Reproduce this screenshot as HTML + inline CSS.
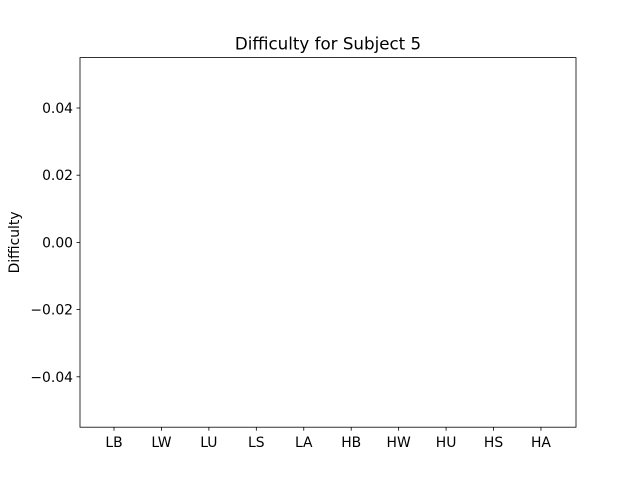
<!DOCTYPE html>
<html><head><meta charset="utf-8"><style>
body{margin:0;background:#fff;}
svg text{font-family:"DejaVu Sans","Liberation Sans",sans-serif;font-size:13.9px;fill:#000;}
</style></head><body>
<svg id="chart" width="640" height="480" viewBox="0 0 640 480">
<rect x="0" y="0" width="640" height="480" fill="#fff"/>
<text x="328" y="49.5" text-anchor="middle" style="font-size:16.7px">Difficulty for Subject 5</text>
<text transform="translate(19,242.4) rotate(-90)" text-anchor="middle">Difficulty</text>
<g id="bars"></g>
<g id="yticks"></g>
<g id="xticks"></g>
<rect x="80" y="57.6" width="496" height="369.6" fill="none" stroke="#000" stroke-width="0.8"/>
</svg>
<script>
const categories=["LB","LW","LU","LS","LA","HB","HW","HU","HS","HA"];
const values=[0,0,0,0,0,0,0,0,0,0];
const yTicks=[-0.04,-0.02,0,0.02,0.04];
const yTickLabels=["\u22120.04","\u22120.02","0.00","0.02","0.04"];
const NS="http://www.w3.org/2000/svg";
const yMin=-0.055,yMax=0.055,yTop=57.6,yBot=427.2;
function yS(v){return yBot-(v-yMin)/(yMax-yMin)*(yBot-yTop);}
function xS(i){return 114+i*47.44;}
const yg=document.getElementById('yticks'),xg=document.getElementById('xticks'),bg=document.getElementById('bars');
yTicks.forEach((t,i)=>{
 const y=yS(t);
 const l=document.createElementNS(NS,'line');
 l.setAttribute('x1',76.5);l.setAttribute('x2',80);l.setAttribute('y1',y);l.setAttribute('y2',y);l.setAttribute('stroke','#000');l.setAttribute('stroke-width','0.8');
 
 
 yg.appendChild(l);
 const tx=document.createElementNS(NS,'text');
 tx.setAttribute('x',73);tx.setAttribute('y',y+5);tx.setAttribute('text-anchor','end');tx.textContent=yTickLabels[i];
 
 
 yg.appendChild(tx);
});
categories.forEach((c,i)=>{
 const x=xS(i);
 const l=document.createElementNS(NS,'line');
 l.setAttribute('x1',x);l.setAttribute('x2',x);l.setAttribute('y1',427.2);l.setAttribute('y2',430.7);l.setAttribute('stroke','#000');l.setAttribute('stroke-width','0.8');
 
 
 xg.appendChild(l);
 const tx=document.createElementNS(NS,'text');
 tx.setAttribute('x',x);tx.setAttribute('y',447);tx.setAttribute('text-anchor','middle');tx.textContent=c;
 
 
 xg.appendChild(tx);
 const v=values[i];
 const r=document.createElementNS(NS,'rect');
 const y0=yS(0),y1=yS(v);
 r.setAttribute('x',x-0.4*47.44);r.setAttribute('width',0.8*47.44);
 r.setAttribute('y',Math.min(y0,y1));r.setAttribute('height',Math.abs(y1-y0));
 r.setAttribute('fill','#1f77b4');
 
 
 bg.appendChild(r);
});
</script>
</body></html>
